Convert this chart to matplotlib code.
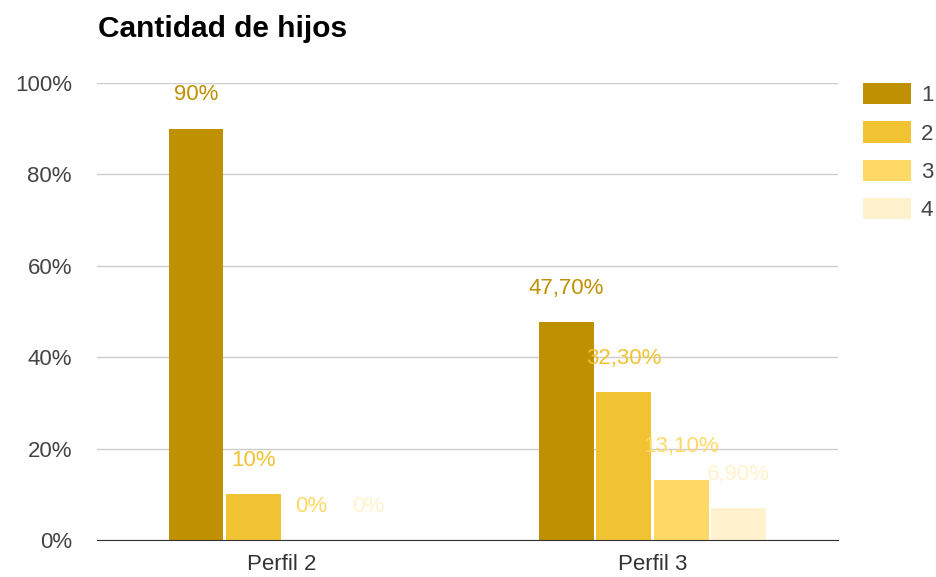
import numpy as np
import matplotlib.pyplot as plt
from matplotlib.patches import Patch

plt.rcParams['font.family'] = ['Liberation Sans', 'DejaVu Sans']

# datos
perfiles = ['Perfil 2', 'Perfil 3']
series = ['1', '2', '3', '4']
valores = [
    [0.90, 0.477],   # 1
    [0.10, 0.323],   # 2
    [0.00, 0.131],   # 3
    [0.00, 0.069],   # 4
]
etiquetas = [
    ['90%', '47,70%'],
    ['10%', '32,30%'],
    ['0%', '13,10%'],
    ['0%', '6,90%'],
]
colores = ['#bf9000', '#f1c232', '#ffd966', '#fff2cc']
yticks = [0, 0.2, 0.4, 0.6, 0.8, 1.0]
ytick_labels = ['0%', '20%', '40%', '60%', '80%', '100%']

fig = plt.figure(figsize=(9.36, 5.77), dpi=100)
ax = fig.add_axes([0.1036, 0.0641, 0.7914, 0.7919])

x = np.arange(len(perfiles))
ancho = 0.148
paso = 0.155
for i, (vals, col) in enumerate(zip(valores, colores)):
    pos = x + (i - 1.5) * paso
    ax.bar(pos, vals, ancho, color=col, zorder=3)
    for p, v, t in zip(pos, vals, etiquetas[i]):
        ax.text(p, v + 0.074, t, ha='center', va='center', color=col,
                fontsize=16, zorder=4, clip_on=False)

ax.set_xlim(-0.5, 1.5)
ax.set_ylim(0, 1.0)
ax.set_xticks(x)
ax.set_xticklabels(perfiles, fontsize=16, color='#333333')
ax.set_yticks(yticks)
ax.set_yticklabels(ytick_labels, fontsize=16, color='#444444')
ax.tick_params(axis='y', length=0, pad=18)
ax.tick_params(axis='x', length=0, pad=10)
ax.grid(axis='y', color='#cccccc', lw=1, zorder=0)
for s in ['top', 'right', 'left']:
    ax.spines[s].set_visible(False)
ax.spines['bottom'].set_color('#333333')
ax.spines['bottom'].set_zorder(5)

fig.text(0.1047, 1 - 29 / 577, 'Cantidad de hijos', fontsize=21.5,
         fontweight='bold', ha='left', va='center', color='#000000')

handles = [Patch(facecolor=c, edgecolor='none') for c in colores]
fig.legend(handles, series, loc='upper left',
           bbox_to_anchor=(863 / 936, 1 - 83 / 577), borderaxespad=0,
           borderpad=0, frameon=False, fontsize=16, handlelength=2.15,
           handleheight=1.1, labelspacing=0.68, handletextpad=0.45,
           labelcolor='#444444')

fig.savefig('out.png', dpi=100)
